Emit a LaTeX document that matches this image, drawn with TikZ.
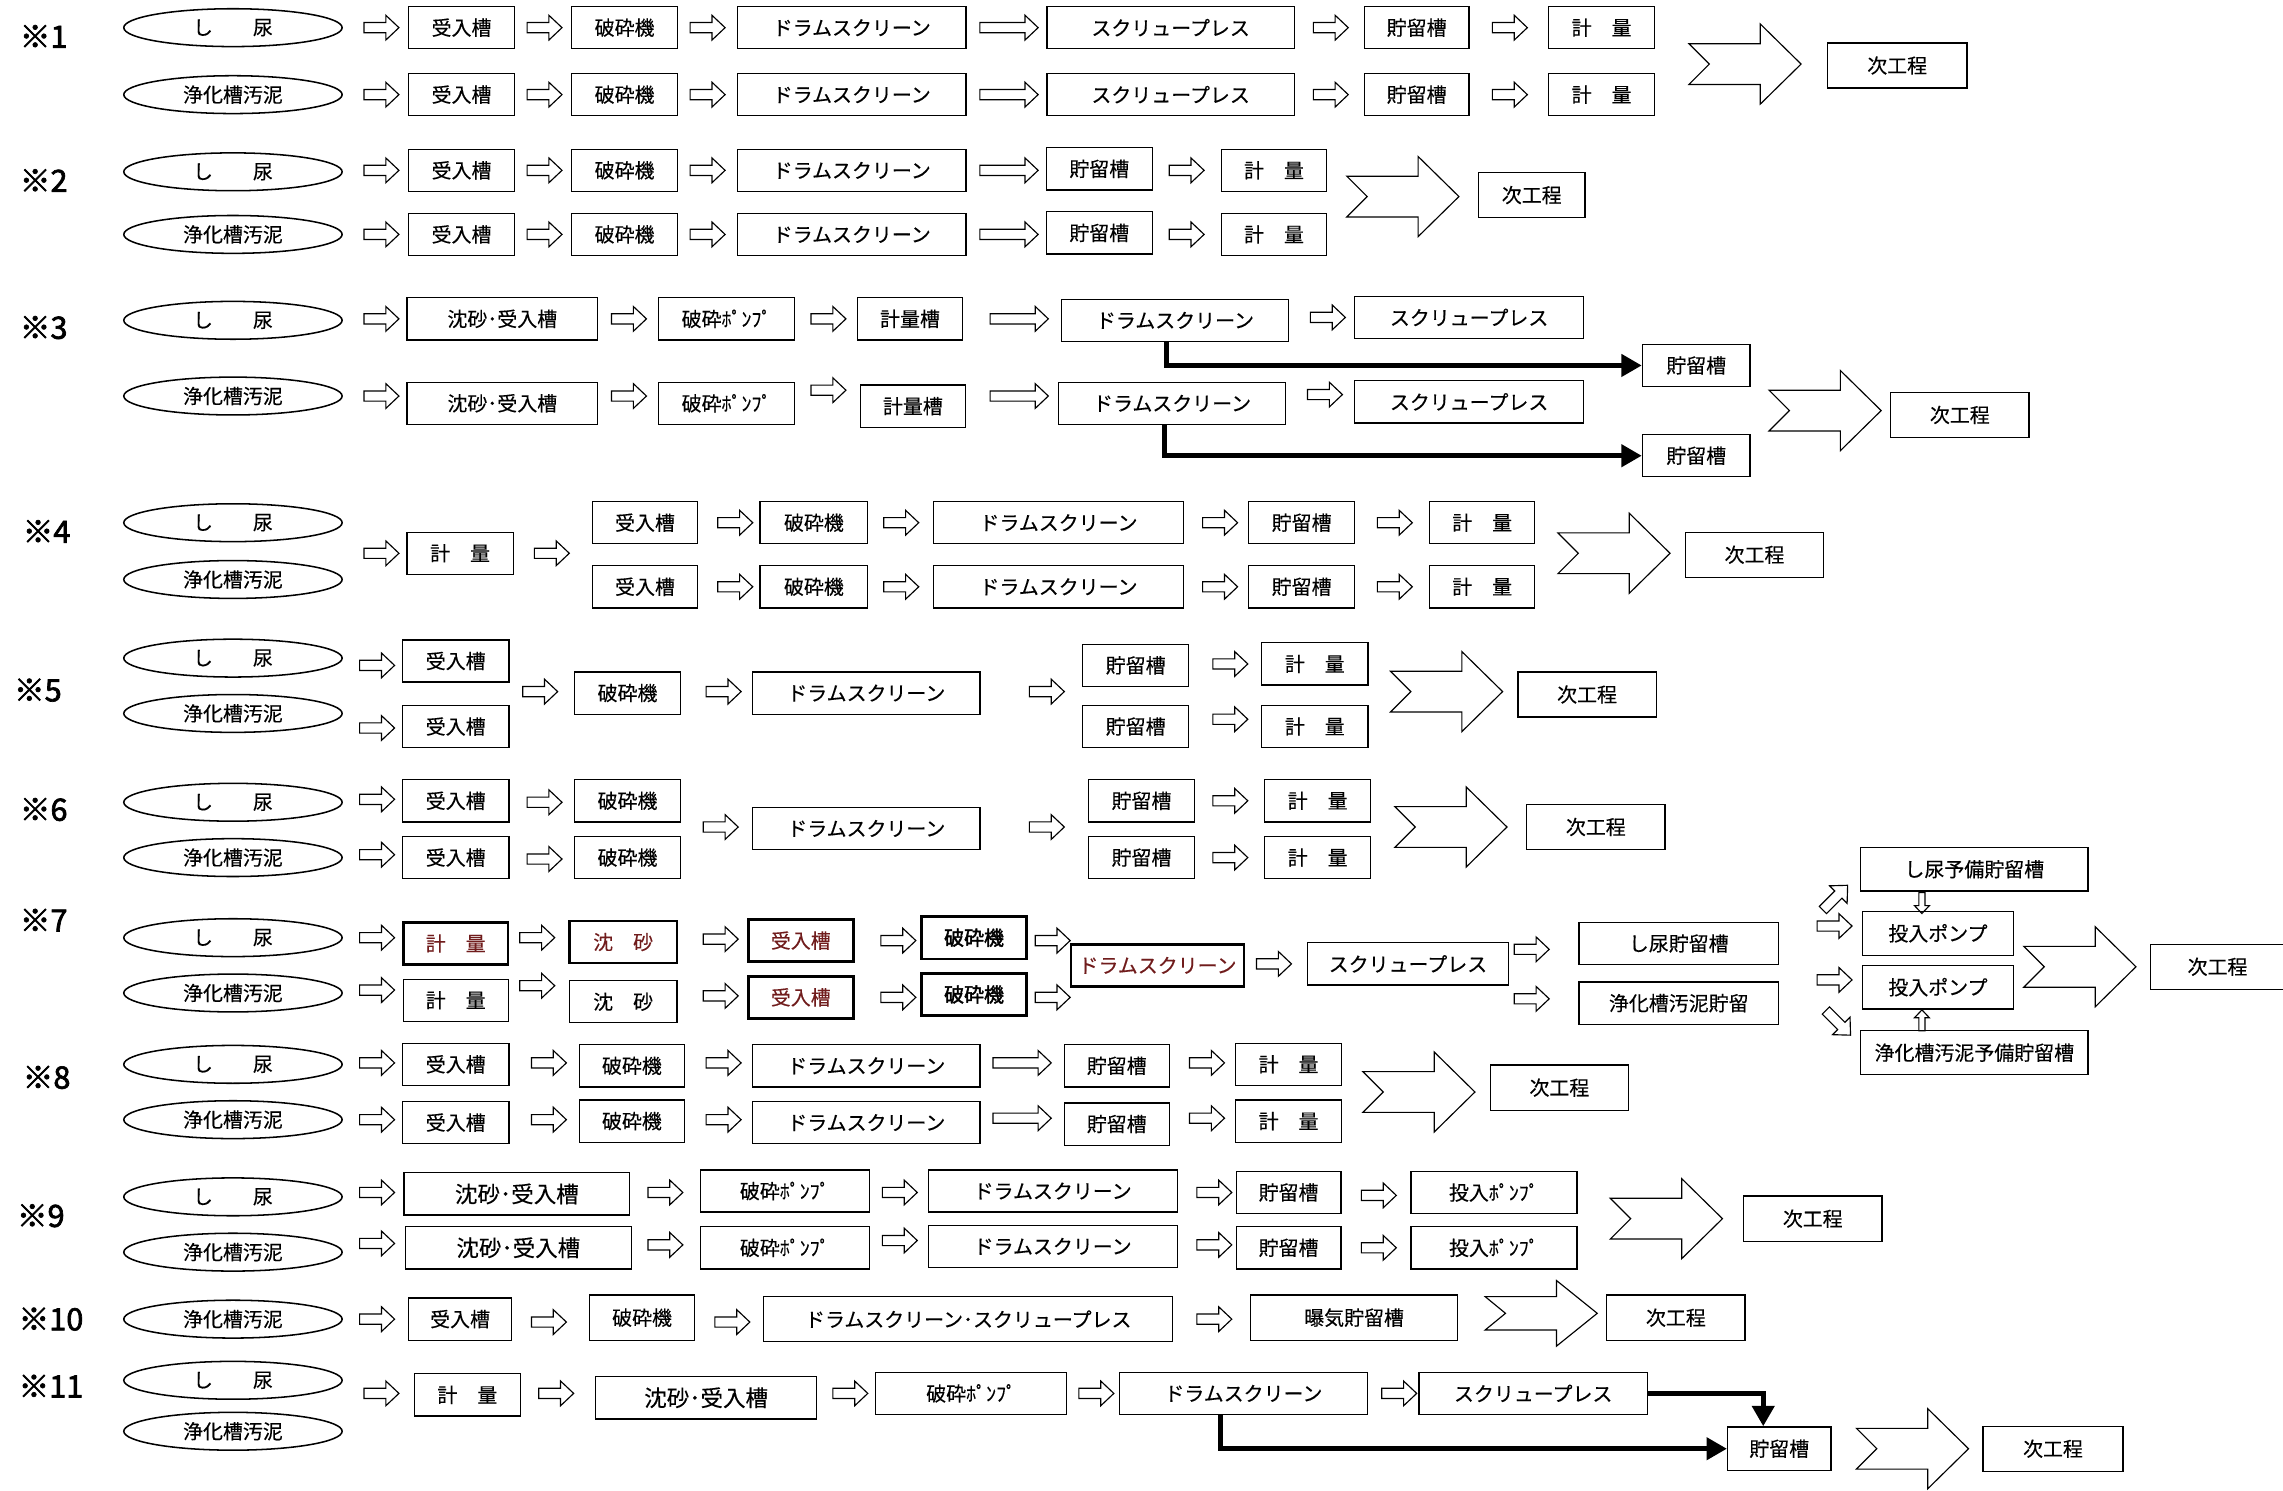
\documentclass[tikz,border=0pt]{standalone}
\usepackage{fontspec}
\setmainfont{Noto Sans CJK JP}[FakeBold=0.3, BoldFont={Noto Sans CJK JP}, BoldFeatures={FakeBold=2.2}]
\usepackage{tikz}
\usetikzlibrary{shapes.geometric, arrows.meta}
\definecolor{textred}{RGB}{112,28,28}
\tikzset {
    box/.style={draw, line width=0.5pt, inner sep=0pt, minimum height=0.58cm, font=\fontsize{7.8}{9}\selectfont},
    wd/.style={minimum width=#1*0.02cm},
    ht/.style={minimum height=#1*0.02cm},
    big/.style={font=\fontsize{8.8}{10}\selectfont},
    src/.style={draw, ellipse, line width=0.6pt, inner sep=0pt, minimum width=3cm, minimum height=0.52cm, font=\fontsize{7.8}{9}\selectfont},
    tag/.style={font=\fontsize{12}{12}\selectfont\bfseries},
    hl/.style={line width=1pt, text=textred},
    hb/.style={line width=1pt, font=\fontsize{7.8}{9}\selectfont\bfseries},
    feed/.style={line width=1.9pt, -{Triangle[length=0.28cm, width=0.3cm]}},
    pics/harr/.style={code={\draw[line width=0.45pt] (0,-3.5) -- ({#1-9},-3.5) -- ({#1-9},-8.5) -- (#1,0) -- ({#1-9},8.5) -- ({#1-9},3.5) -- (0,3.5) -- cycle;}},
    pics/harr/.default=24,
    pics/bigarr/.style={code={\draw[line width=0.45pt] (0,-14) -- (49,-14) -- (49,-27.5) -- (77,0) -- (49,27.5) -- (49,14) -- (0,14) -- (14,0) -- cycle;}}
}
\begin{document}
\begin{tikzpicture}[x=0.02cm, y=-0.02cm]
\useasboundingbox (0,0) rectangle (1568,1024);

% ※1
\node[tag] (t1) at (30,25) {※1};
\node[src] (sn1) at (160,19) {し　　尿};
\node[src] (jo1) at (160,65) {浄化槽汚泥};
\pic at (250,19) {harr}; \pic at (250,65) {harr};
\node[box, wd=73] (ju1a) at (317,19) {受入槽};
\node[box, wd=73] (ju1b) at (317,65) {受入槽};
\pic at (362,19) {harr}; \pic at (362,65) {harr};
\node[box, wd=73] (ha1a) at (429,19) {破砕機};
\node[box, wd=73] (ha1b) at (429,65) {破砕機};
\pic at (474,19) {harr}; \pic at (474,65) {harr};
\node[box, wd=157] (dr1a) at (585,19) {ドラムスクリーン};
\node[box, wd=157] (dr1b) at (585,65) {ドラムスクリーン};
\pic at (673,19) {harr=40}; \pic at (673,65) {harr=40};
\node[box, wd=170] (sp1a) at (804,19) {スクリュープレス};
\node[box, wd=170] (sp1b) at (804,65) {スクリュープレス};
\pic at (902,19) {harr}; \pic at (902,65) {harr};
\node[box, wd=72] (ch1a) at (973,19) {貯留槽};
\node[box, wd=72] (ch1b) at (973,65) {貯留槽};
\pic at (1025,19) {harr}; \pic at (1025,65) {harr};
\node[box, wd=73] (ke1a) at (1100,19) {計　量};
\node[box, wd=73] (ke1b) at (1100,65) {計　量};
\pic at (1160,44) {bigarr};
\node[box, wd=96, ht=31] (nx1) at (1303,45) {次工程};

% ※2
\node[tag] (t2) at (30,124) {※2};
\node[src] (sn2) at (160,118) {し　　尿};
\node[src] (jo2) at (160,161) {浄化槽汚泥};
\pic at (250,117) {harr}; \pic at (250,161) {harr};
\node[box, wd=73] (ju2a) at (317,117) {受入槽};
\node[box, wd=73] (ju2b) at (317,161) {受入槽};
\pic at (362,117) {harr}; \pic at (362,161) {harr};
\node[box, wd=73] (ha2a) at (429,117) {破砕機};
\node[box, wd=73] (ha2b) at (429,161) {破砕機};
\pic at (474,117) {harr}; \pic at (474,161) {harr};
\node[box, wd=157] (dr2a) at (585,117) {ドラムスクリーン};
\node[box, wd=157] (dr2b) at (585,161) {ドラムスクリーン};
\pic at (673,117) {harr=40}; \pic at (673,161) {harr=40};
\node[box, wd=73] (ch2a) at (755,116) {貯留槽};
\node[box, wd=73] (ch2b) at (755,160) {貯留槽};
\pic at (803,117) {harr}; \pic at (803,161) {harr};
\node[box, wd=72] (ke2a) at (875,117) {計　量};
\node[box, wd=72] (ke2b) at (875,161) {計　量};
\pic at (925,135) {bigarr};
\node[box, wd=73, ht=31] (nx2) at (1052,134) {次工程};

% ※3
\node[tag] (t3) at (30,225) {※3};
\node[src] (sn3) at (160,220) {し　　尿};
\node[src] (jo3) at (160,272) {浄化槽汚泥};
\pic at (250,219) {harr}; \pic at (250,272) {harr};
\node[box, wd=131] (ci3a) at (345,219) {沈砂･受入槽};
\node[box, wd=131] (ci3b) at (345,277) {沈砂･受入槽};
\pic at (420,219) {harr}; \pic at (420,272) {harr};
\node[box, wd=93] (po3a) at (499,219) {破砕ﾎﾟﾝﾌﾟ};
\node[box, wd=93] (po3b) at (499,277) {破砕ﾎﾟﾝﾌﾟ};
\pic at (557,219) {harr}; \pic at (557,268) {harr};
\node[box, wd=72] (kt3a) at (625,219) {計量槽};
\node[box, wd=72] (kt3b) at (627,279) {計量槽};
\pic at (680,219) {harr=40}; \pic at (680,272) {harr=40};
\node[box, wd=156] (dr3a) at (807,220) {ドラムスクリーン};
\node[box, wd=156] (dr3b) at (805,277) {ドラムスクリーン};
\pic at (900,218) {harr}; \pic at (898,271) {harr};
\node[box, wd=157] (sp3a) at (1009,218) {スクリュープレス};
\node[box, wd=157] (sp3b) at (1009,276) {スクリュープレス};
\node[box, wd=74] (ch3a) at (1165,251) {貯留槽};
\node[box, wd=74] (ch3b) at (1165,313) {貯留槽};
\draw[feed] ([xshift=-0.12cm]dr3a.south) |- (ch3a.west);
\draw[feed] ([xshift=-0.1cm]dr3b.south) |- (ch3b.west);
\pic at (1215,282) {bigarr};
\node[box, wd=95, ht=31] (nx3) at (1346,285) {次工程};

% ※4
\node[tag] (t4) at (32,365) {※4};
\node[src] (sn4) at (160,359) {し　　尿};
\node[src] (jo4) at (160,398) {浄化槽汚泥};
\pic at (250,380) {harr};
\node[box, wd=73] (ke4) at (316,380) {計　量};
\pic at (367,380) {harr};
\node[box, wd=72] (ju4a) at (443,359) {受入槽};
\node[box, wd=72] (ju4b) at (443,403) {受入槽};
\pic at (493,359) {harr}; \pic at (493,403) {harr};
\node[box, wd=74] (ha4a) at (559,359) {破砕機};
\node[box, wd=74] (ha4b) at (559,403) {破砕機};
\pic at (607,359) {harr}; \pic at (607,403) {harr};
\node[box, wd=172] (dr4a) at (727,359) {ドラムスクリーン};
\node[box, wd=172] (dr4b) at (727,403) {ドラムスクリーン};
\pic at (826,359) {harr}; \pic at (826,403) {harr};
\node[box, wd=73] (ch4a) at (894,359) {貯留槽};
\node[box, wd=73] (ch4b) at (894,403) {貯留槽};
\pic at (946,359) {harr}; \pic at (946,403) {harr};
\node[box, wd=72] (ke4a) at (1018,359) {計　量};
\node[box, wd=72] (ke4b) at (1018,403) {計　量};
\pic at (1070,380) {bigarr};
\node[box, wd=95, ht=31] (nx4) at (1205,381) {次工程};

% ※5
\node[tag] (t5) at (26,474) {※5};
\node[src] (sn5) at (160,452) {し　　尿};
\node[src] (jo5) at (160,490) {浄化槽汚泥};
\pic at (247,457) {harr}; \pic at (247,500) {harr};
\node[box, wd=73] (ju5a) at (313,454) {受入槽};
\node[box, wd=73] (ju5b) at (313,499) {受入槽};
\pic at (359,475) {harr};
\node[box, wd=73] (ha5) at (431,476) {破砕機};
\pic at (485,475) {harr};
\node[box, wd=156] (dr5) at (595,476) {ドラムスクリーン};
\pic at (707,475) {harr};
\node[box, wd=73] (ch5a) at (780,457) {貯留槽};
\node[box, wd=73] (ch5b) at (780,499) {貯留槽};
\pic at (833,456) {harr}; \pic at (833,494) {harr};
\node[box, wd=73] (ke5a) at (903,456) {計　量};
\node[box, wd=73] (ke5b) at (903,499) {計　量};
\pic at (955,475) {bigarr};
\node[box, wd=95, ht=31] (nx5) at (1090,477) {次工程};

% ※6
\node[tag] (t6) at (30,556) {※6};
\node[src] (sn6) at (160,551) {し　　尿};
\node[src] (jo6) at (160,589) {浄化槽汚泥};
\pic at (247,549) {harr}; \pic at (247,587) {harr};
\node[box, wd=73] (ju6a) at (313,550) {受入槽};
\node[box, wd=73] (ju6b) at (313,589) {受入槽};
\pic at (362,551) {harr}; \pic at (362,590) {harr};
\node[box, wd=73] (ha6a) at (431,550) {破砕機};
\node[box, wd=73] (ha6b) at (431,589) {破砕機};
\pic at (483,568) {harr};
\node[box, wd=156] (dr6) at (595,569) {ドラムスクリーン};
\pic at (707,568) {harr};
\node[box, wd=73] (ch6a) at (784,550) {貯留槽};
\node[box, wd=73] (ch6b) at (784,589) {貯留槽};
\pic at (833,550) {harr}; \pic at (833,589) {harr};
\node[box, wd=73] (ke6a) at (905,550) {計　量};
\node[box, wd=73] (ke6b) at (905,589) {計　量};
\pic at (958,568) {bigarr};
\node[box, wd=95, ht=31] (nx6) at (1096,568) {次工程};

% ※7
\node[tag] (t7) at (30,632) {※7};
\node[src] (sn7) at (160,644) {し　　尿};
\node[src] (jo7) at (160,682) {浄化槽汚泥};
\pic at (247,644) {harr}; \pic at (247,680) {harr};
\node[box, hl, wd=72] (ke7a) at (313,648) {計　量};
\node[box, wd=72] (ke7b) at (313,687) {計　量};
\pic at (357,644) {harr}; \pic at (357,677) {harr};
\node[box, hl, wd=74] (ss7a) at (428,647) {沈　砂};
\node[box, wd=74] (ss7b) at (428,688) {沈　砂};
\pic at (483,645) {harr}; \pic at (483,684) {harr};
\node[box, hl, wd=72] (ju7a) at (550,646) {受入槽};
\node[box, hl, wd=72] (ju7b) at (550,685) {受入槽};
\pic at (605,646) {harr}; \pic at (605,685) {harr};
\node[box, hb, wd=72] (ha7a) at (669,644) {破砕機};
\node[box, hb, wd=72] (ha7b) at (669,683) {破砕機};
\pic at (711,646) {harr}; \pic at (711,685) {harr};
\node[box, hl, wd=119] (dr7) at (795,663) {ドラムスクリーン};
\pic at (863,662) {harr};
\node[box, wd=138] (sp7) at (967,662) {スクリュープレス};
\pic at (1040,652) {harr}; \pic at (1040,686) {harr};
\node[box, wd=137] (ch7a) at (1153,648) {し尿貯留槽};
\node[box, wd=137] (ch7b) at (1153,689) {浄化槽汚泥貯留};
\pic[rotate=45] at (1252,625) {harr};
\pic at (1248,636) {harr}; \pic at (1248,673) {harr};
\pic[rotate=-45] at (1254,694) {harr};
\node[box, wd=156, ht=30] (yo7a) at (1356,597) {し尿予備貯留槽};
\pic[rotate=-90, scale=0.6] at (1320,613) {harr};
\node[box, wd=104, ht=30] (tp7a) at (1331,641) {投入ポンプ};
\node[box, wd=104, ht=30] (tp7b) at (1331,678) {投入ポンプ};
\pic[rotate=90, scale=0.6] at (1320,708) {harr};
\node[box, wd=156, ht=30] (yo7b) at (1356,723) {浄化槽汚泥予備貯留槽};
\pic at (1390,664) {bigarr};
\node[box, wd=92, ht=31] (nx7) at (1523,664) {次工程};

% ※8
\node[tag] (t8) at (32,740) {※8};
\node[src] (sn8) at (160,731) {し　　尿};
\node[src] (jo8) at (160,769) {浄化槽汚泥};
\pic at (247,730) {harr}; \pic at (247,769) {harr};
\node[box, wd=73] (ju8a) at (313,731) {受入槽};
\node[box, wd=73] (ju8b) at (313,771) {受入槽};
\pic at (365,730) {harr}; \pic at (365,769) {harr};
\node[box, wd=72] (ha8a) at (434,732) {破砕機};
\node[box, wd=72] (ha8b) at (434,770) {破砕機};
\pic at (485,730) {harr}; \pic at (485,769) {harr};
\node[box, wd=156] (dr8a) at (595,732) {ドラムスクリーン};
\node[box, wd=156] (dr8b) at (595,771) {ドラムスクリーン};
\pic at (682,730) {harr=40}; \pic at (682,768) {harr=40};
\node[box, wd=72] (ch8a) at (767,732) {貯留槽};
\node[box, wd=72] (ch8b) at (767,772) {貯留槽};
\pic at (817,730) {harr}; \pic at (817,768) {harr};
\node[box, wd=73] (ke8a) at (885,731) {計　量};
\node[box, wd=73] (ke8b) at (885,770) {計　量};
\pic at (936,750) {bigarr};
\node[box, wd=95, ht=31] (nx8) at (1071,747) {次工程};

% ※9
\node[tag] (t9) at (28,835) {※9};
\node[src] (sn9) at (160,822) {し　　尿};
\node[src] (jo9) at (160,860) {浄化槽汚泥};
\pic at (247,819) {harr}; \pic at (247,854) {harr};
\node[box, big, wd=155] (ci9a) at (355,820) {沈砂･受入槽};
\node[box, big, wd=155] (ci9b) at (356,857) {沈砂･受入槽};
\pic at (445,819) {harr}; \pic at (445,855) {harr};
\node[box, wd=116] (po9a) at (539,818) {破砕ﾎﾟﾝﾌﾟ};
\node[box, wd=116] (po9b) at (539,857) {破砕ﾎﾟﾝﾌﾟ};
\pic at (606,819) {harr}; \pic at (606,852) {harr};
\node[box, wd=171] (dr9a) at (723,818) {ドラムスクリーン};
\node[box, wd=171] (dr9b) at (723,856) {ドラムスクリーン};
\pic at (822,819) {harr}; \pic at (822,855) {harr};
\node[box, wd=72] (ch9a) at (885,819) {貯留槽};
\node[box, wd=72] (ch9b) at (885,857) {貯留槽};
\pic at (935,821) {harr}; \pic at (935,857) {harr};
\node[box, wd=114] (tp9a) at (1026,819) {投入ﾎﾟﾝﾌﾟ};
\node[box, wd=114] (tp9b) at (1026,857) {投入ﾎﾟﾝﾌﾟ};
\pic at (1106,837) {bigarr};
\node[box, wd=95, ht=31] (nx9) at (1245,837) {次工程};

% ※10
\node[tag] (t10) at (35,906) {※10};
\node[src] (jo10) at (160,906) {浄化槽汚泥};
\pic at (247,906) {harr};
\node[box, wd=71] (ju10) at (316,906) {受入槽};
\pic at (365,908) {harr};
\node[box, wd=72, ht=31] (ha10) at (441,905) {破砕機};
\pic at (491,908) {harr};
\node[box, wd=281, ht=31] (ds10) at (665,906) {ドラムスクリーン･スクリュープレス};
\pic at (822,906) {harr};
\node[box, wd=142, ht=31] (bk10) at (930,905) {曝気貯留槽};
\pic[yscale=0.82] at (1020,902) {bigarr};
\node[box, wd=95, ht=31] (nx10) at (1151,905) {次工程};

% ※11
\node[tag] (t11) at (35,952) {※11};
\node[src] (sn11) at (160,948) {し　　尿};
\node[src] (jo11) at (160,983) {浄化槽汚泥};
\pic at (250,957) {harr};
\node[box, wd=73] (ke11) at (321,958) {計　量};
\pic at (370,957) {harr};
\node[box, big, wd=152] (ci11) at (485,960) {沈砂･受入槽};
\pic at (572,957) {harr};
\node[box, wd=131] (po11) at (667,957) {破砕ﾎﾟﾝﾌﾟ};
\pic at (741,957) {harr};
\node[box, wd=170] (dr11) at (854,957) {ドラムスクリーン};
\pic at (949,957) {harr};
\node[box, wd=157] (sp11) at (1053,957) {スクリュープレス};
\node[box, wd=71, ht=30] (ch11) at (1222,995) {貯留槽};
\draw[feed] (sp11.east) -| ([xshift=-0.22cm]ch11.north);
\draw[feed] ([xshift=-0.32cm]dr11.south) |- (ch11.west);
\pic at (1275,995) {bigarr};
\node[box, wd=96, ht=31] (nx11) at (1410,995) {次工程};
\end{tikzpicture}
\end{document}
